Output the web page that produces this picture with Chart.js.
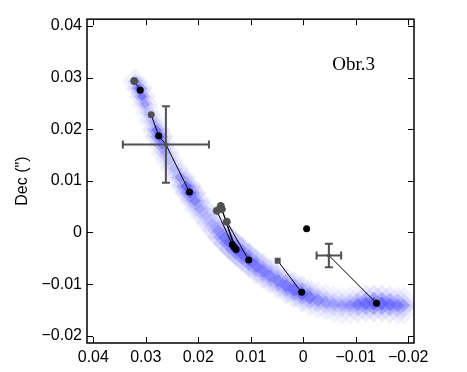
<!DOCTYPE html>
<html lang="cs">
<head>
<meta charset="UTF-8">
<title>Obr.3</title>
<script src="https://cdn.jsdelivr.net/npm/chart.js"></script>
<style>
  body { margin: 0; background: #fff; }
</style>
</head>
<body>
<canvas id="obr3" width="467" height="372"></canvas>
<script>
// osy
const xTicks = [0.04, 0.03, 0.02, 0.01, 0, -0.01, -0.02];
const xTickLabels = ['0.04', '0.03', '0.02', '0.01', '0', '\u22120.01', '\u22120.02'];
const yTicks = [0.04, 0.03, 0.02, 0.01, 0, -0.01, -0.02];
const yTickLabels = ['0.04', '0.03', '0.02', '0.01', '0', '\u22120.01', '\u22120.02'];
const yTitle = 'Dec (")';
const figLabel = 'Obr.3';
const figLabelX = -0.0096, figLabelY = 0.0325;

// pas hustoty podel stopy (x, y, relativni hustota)
const cloudX = [0.03201, 0.03125, 0.03068, 0.03011, 0.02954, 0.02878, 0.02802, 0.02745, 0.02688, 0.02631,
                0.02555, 0.02459, 0.02345, 0.02231, 0.02155, 0.02060, 0.01965, 0.01851, 0.01737, 0.01623,
                0.01509, 0.01394, 0.01280, 0.01166, 0.01033, 0.00900, 0.00767, 0.00634, 0.00482, 0.00329,
                0.00177, 0.00025, -0.00127, -0.00279, -0.00431, -0.00583, -0.00736, -0.00888, -0.01040, -0.01192,
                -0.01344, -0.01497, -0.01649, -0.01801, -0.01915];
const cloudY = [0.02921, 0.02787, 0.02635, 0.02482, 0.02310, 0.02157, 0.01985, 0.01852, 0.01699, 0.01546,
                0.01394, 0.01241, 0.01069, 0.00897, 0.00764, 0.00611, 0.00458, 0.00325, 0.00172, 0.00038,
                -0.00095, -0.00210, -0.00325, -0.00420, -0.00535, -0.00649, -0.00745, -0.00840, -0.00935, -0.01031,
                -0.01107, -0.01184, -0.01260, -0.01317, -0.01355, -0.01394, -0.01413, -0.01413, -0.01394, -0.01375,
                -0.01375, -0.01375, -0.01394, -0.01413, -0.01413];
const cloudD = [0.4, 1.0, 0.7, 0.4, 0.2, 0.25, 0.7, 1.0, 0.6, 0.3,
                0.2, 0.25, 0.5, 0.9, 1.0, 0.6, 0.35, 0.25, 0.3, 0.5,
                0.7, 0.9, 1.0, 0.9, 0.85, 0.7, 0.6, 0.55, 0.6, 0.7,
                0.8, 0.85, 0.6, 0.4, 0.3, 0.25, 0.25, 0.3, 0.55, 0.8,
                1.0, 0.9, 0.7, 0.5, 0.3];

// predikce (cerne body)
const predX = [0.03106, 0.02754, 0.02168, 0.01351, 0.01313, 0.01280, 0.01039, 0.00031, -0.01396];
const predY = [0.02755, 0.01871, 0.00783, -0.00235, -0.00286, -0.00330, -0.00535, -0.01159, -0.01369];
const loneX = [-0.00064];
const loneY = [0.00071];

// pozorovani (sede znacky)
const starX = [0.03220, 0.01647, 0.01571, 0.01552, 0.01457];
const starY = [0.02934, 0.00420, 0.00515, 0.00452, 0.00210];
const circX = [0.02897];
const circY = [0.02278];
const sqX = [0.00487];
const sqY = [-0.00548];

// krizky s chybami
const crossX = [0.02617, -0.00488];
const crossY = [0.01705, -0.00445];
const crossErrX = [0.0082, 0.00234];
const crossErrY = [0.0074, 0.00229];

// spojnice [odkud, index, kam, index]
const links = [
  ['star', 0, 'pred', 0],
  ['circ', 0, 'pred', 1],
  ['pred', 1, 'cross', 0],
  ['cross', 0, 'pred', 2],
  ['star', 1, 'pred', 3],
  ['star', 2, 'pred', 4],
  ['star', 3, 'pred', 5],
  ['star', 4, 'pred', 6],
  ['sq', 0, 'pred', 7],
  ['cross', 1, 'pred', 8]
];

const sets = {
  pred: [predX, predY], star: [starX, starY], circ: [circX, circY],
  sq: [sqX, sqY], cross: [crossX, crossY]
};
const pt = (name, i) => ({ x: sets[name][0][i], y: sets[name][1][i] });
const pts = (xs, ys) => xs.map((x, i) => ({ x, y: ys[i] }));

const GRAY = '#505050';
const FONT = '"Liberation Sans", Arial, sans-serif';

const cloudPts = cloudX.map((x, i) => ({ x, y: cloudY[i], d: cloudD[i] }));
function cloudLayer(k, base, gain, rgb) {
  return {
    data: cloudPts,
    order: 10,
    pointStyle: 'rectRot',
    borderWidth: 0,
    pointRadius: c => c.raw ? k * (13 + (0.03 - c.raw.y) * 140) : 0,
    backgroundColor: c => c.raw ? `rgba(${rgb},${base + gain * c.raw.d})` : 'transparent'
  };
}

const datasets = [
  cloudLayer(1.0, 0.05, 0.12, '120,120,255'),
  cloudLayer(0.62, 0.02, 0.33, '85,85,255'),
  cloudLayer(0.36, 0.0, 0.75, '50,50,245')
];

links.forEach(l => {
  datasets.push({
    data: [pt(l[0], l[1]), pt(l[2], l[3])],
    showLine: true, borderColor: '#000', borderWidth: 1,
    pointRadius: 0, order: 5
  });
});

datasets.push(
  { data: pts(predX, predY), pointRadius: 3.5, backgroundColor: '#000', borderWidth: 0, order: 1 },
  { data: pts(loneX, loneY), pointRadius: 3.5, backgroundColor: '#000', borderWidth: 0, order: 1 },
  { data: pts(starX, starY), pointStyle: 'star', pointRadius: 4, borderColor: GRAY, borderWidth: 2.5, order: 1 },
  { data: pts(circX, circY), pointRadius: 3.5, backgroundColor: GRAY, borderWidth: 0, order: 1 },
  { data: pts(sqX, sqY), pointStyle: 'rect', pointRadius: 4.2, backgroundColor: GRAY, borderWidth: 0, order: 1 }
);

// ramecek a dovnitr smerujici carky
const frame = {
  id: 'frame',
  afterDraw(chart) {
    const { ctx, chartArea: a, scales: { x, y } } = chart;
    ctx.save();
    ctx.strokeStyle = '#000';
    ctx.lineWidth = 1.5;
    ctx.strokeRect(a.left, a.top, a.right - a.left, a.bottom - a.top);
    ctx.lineWidth = 1;
    ctx.beginPath();
    xTicks.forEach(v => {
      const px = Math.round(x.getPixelForValue(v)) + 0.5;
      ctx.moveTo(px, a.bottom); ctx.lineTo(px, a.bottom - 6);
      ctx.moveTo(px, a.top); ctx.lineTo(px, a.top + 6);
    });
    yTicks.forEach(v => {
      const py = Math.round(y.getPixelForValue(v)) + 0.5;
      ctx.moveTo(a.left, py); ctx.lineTo(a.left + 6, py);
      ctx.moveTo(a.right, py); ctx.lineTo(a.right - 6, py);
    });
    ctx.stroke();
    ctx.restore();
  }
};

// chybove krizky a popisek
const errorBars = {
  id: 'errorBars',
  afterDatasetsDraw(chart) {
    const { ctx, scales: { x, y } } = chart;
    ctx.save();
    ctx.strokeStyle = GRAY;
    ctx.fillStyle = GRAY;
    ctx.lineWidth = 2;
    crossX.forEach((cx, i) => {
      const px = x.getPixelForValue(cx), py = y.getPixelForValue(crossY[i]);
      const x1 = x.getPixelForValue(cx - crossErrX[i]), x2 = x.getPixelForValue(cx + crossErrX[i]);
      const y1 = y.getPixelForValue(crossY[i] - crossErrY[i]), y2 = y.getPixelForValue(crossY[i] + crossErrY[i]);
      ctx.beginPath();
      ctx.moveTo(x1, py); ctx.lineTo(x2, py);
      ctx.moveTo(px, y1); ctx.lineTo(px, y2);
      ctx.moveTo(x1, py - 4); ctx.lineTo(x1, py + 4);
      ctx.moveTo(x2, py - 4); ctx.lineTo(x2, py + 4);
      ctx.moveTo(px - 4, y1); ctx.lineTo(px + 4, y1);
      ctx.moveTo(px - 4, y2); ctx.lineTo(px + 4, y2);
      ctx.stroke();
      ctx.beginPath();
      ctx.arc(px, py, 2, 0, Math.PI * 2);
      ctx.fill();
    });
    ctx.font = '19px "Liberation Serif", "Times New Roman", serif';
    ctx.fillStyle = '#000';
    ctx.textAlign = 'center';
    ctx.textBaseline = 'middle';
    ctx.fillText(figLabel, x.getPixelForValue(figLabelX), y.getPixelForValue(figLabelY));
    ctx.restore();
  }
};

new Chart(document.getElementById('obr3'), {
  type: 'scatter',
  data: { datasets },
  options: {
    responsive: false,
    animation: false,
    events: [],
    layout: { padding: { top: 15, right: 53, left: 0, bottom: 0 } },
    plugins: { legend: { display: false }, tooltip: { enabled: false } },
    scales: {
      x: {
        type: 'linear', reverse: true, min: -0.0211, max: 0.0412,
        afterBuildTicks: s => { s.ticks = xTicks.map(v => ({ value: v })); },
        afterFit: s => { s.height = 29; },
        grid: { display: false, drawTicks: false },
        border: { display: false },
        ticks: {
          color: '#000', padding: 5, maxRotation: 0, autoSkip: false,
          font: { family: FONT, size: 16 },
          callback: (v, i) => xTickLabels[i]
        }
      },
      y: {
        type: 'linear', min: -0.0214, max: 0.0413,
        afterBuildTicks: s => { s.ticks = yTicks.map(v => ({ value: v })); },
        afterFit: s => { s.width = 87; },
        grid: { display: false, drawTicks: false },
        border: { display: false },
        ticks: {
          color: '#000', padding: 5, autoSkip: false,
          font: { family: FONT, size: 16 },
          callback: (v, i) => yTickLabels[i]
        },
        title: {
          display: true, text: yTitle, color: '#000',
          font: { family: FONT, size: 16 },
          padding: { top: 13, bottom: 0 }
        }
      }
    }
  },
  plugins: [frame, errorBars]
});
</script>
</body>
</html>
